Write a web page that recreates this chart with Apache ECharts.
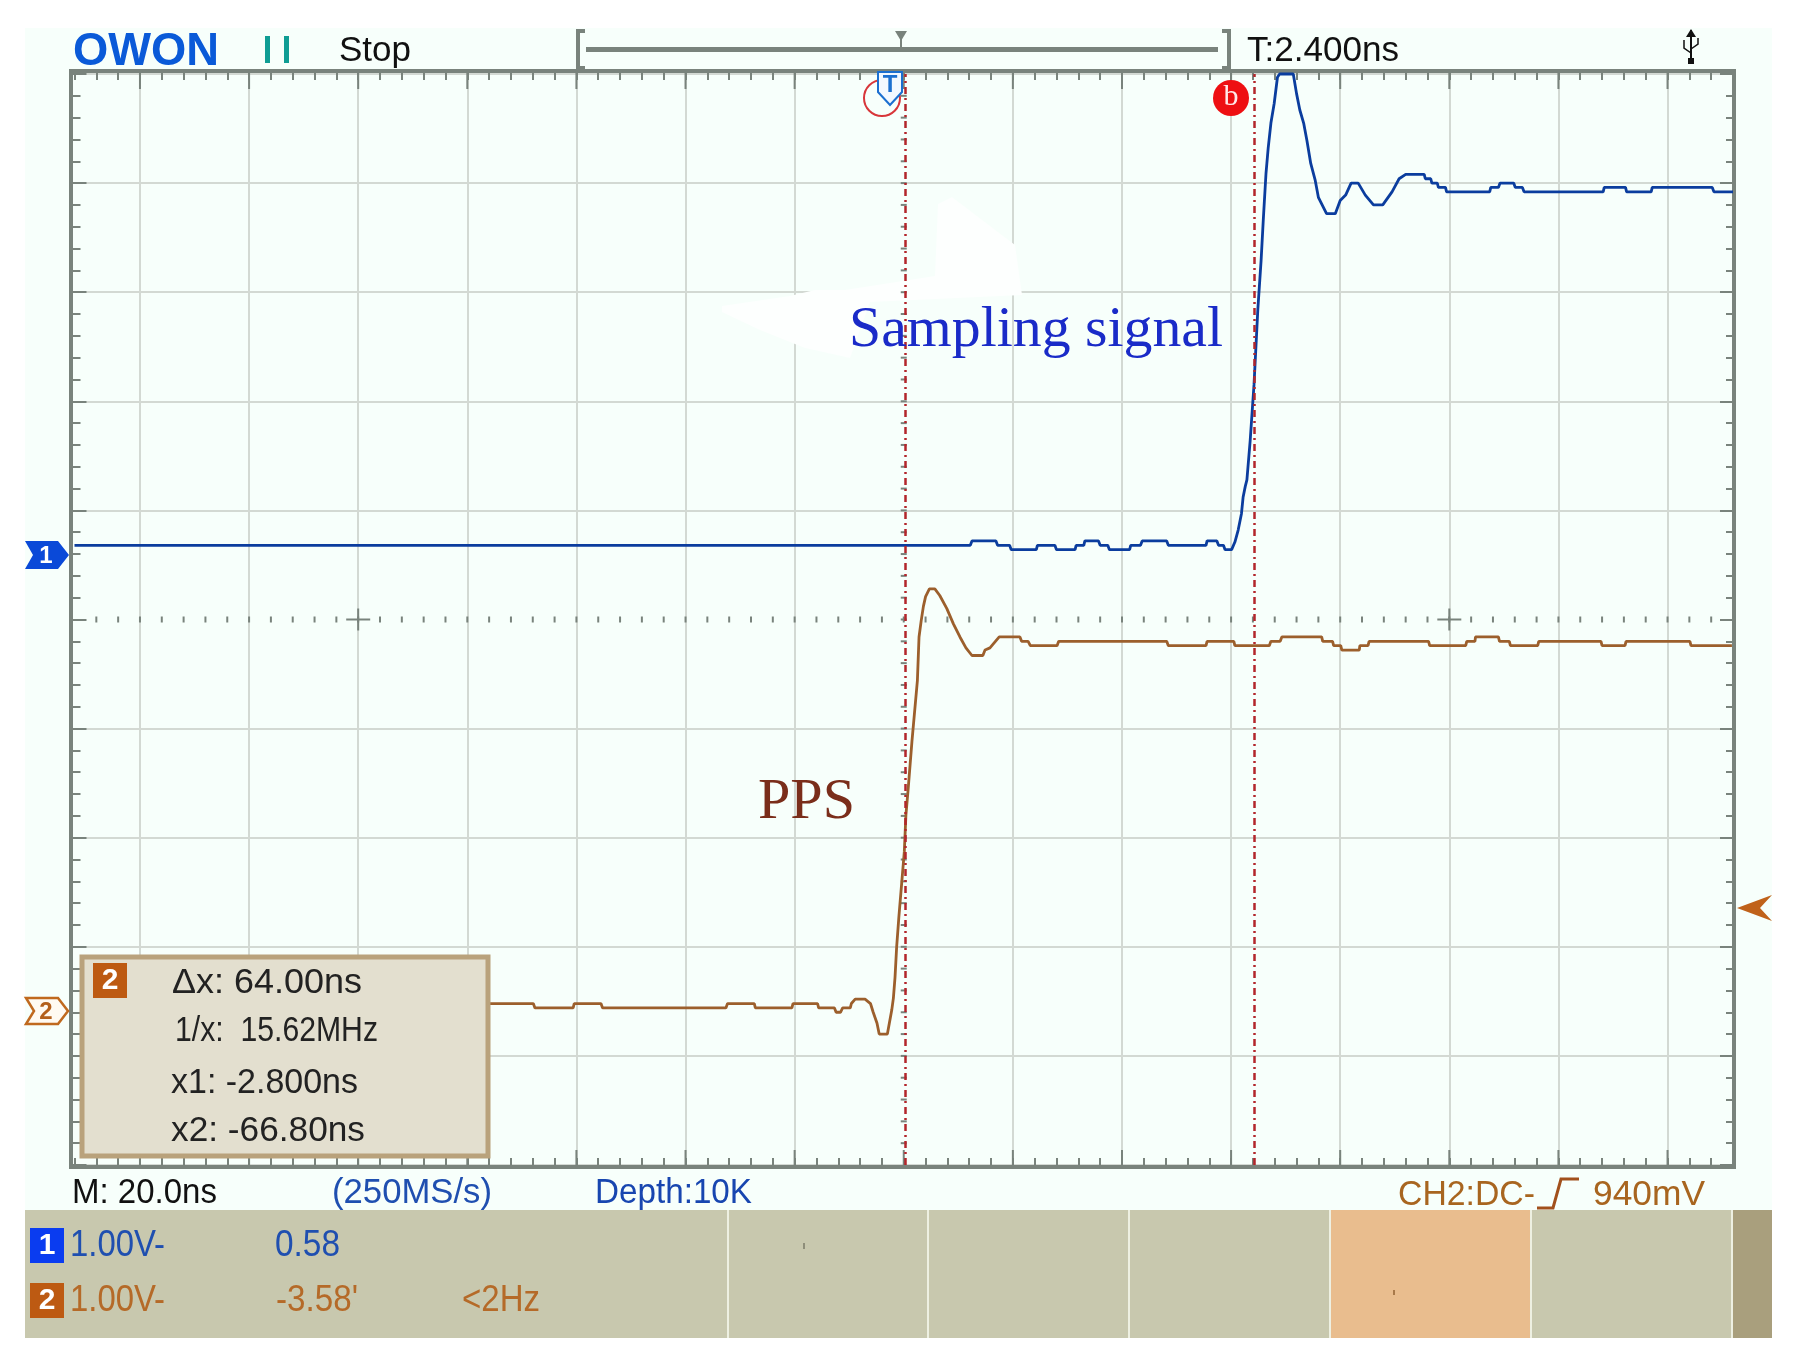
<!DOCTYPE html>
<html><head><meta charset="utf-8">
<style>html,body{margin:0;padding:0;background:#fff}#c{width:1799px;height:1361px}</style>
<script src="https://cdn.jsdelivr.net/npm/echarts@6/dist/echarts.min.js"></script>
</head><body><div id="c"></div>
<script>
// time in ns (20 ns per division), amplitude in divisions (1.00 V/div) from screen centre
const blueX = [-12,152.2,152.5,156.9,157.2,159.4,159.7,164.3,164.5,167.7,168,171.4,171.6,173,173.2,175.7,176,177.4,177.7,181.4,181.6,183.4,183.7,188.2,188.5,195.4,195.6,197.4,197.7,198.6,198.9,200.1,200.7,201.3,201.9,202.2,202.6,202.9,203.5,204.2,204.9,205.5,205.9,206.4,206.8,207.3,207.9,208.5,208.9,211.4,212,212.6,213.3,213.9,214.6,215.4,216,217.5,219.1,220,221,222,223.3,224.6,226.1,227.8,229.5,230.8,232,235.4,235.6,236.6,236.8,237.8,238,239.3,239.5,247.4,247.6,249,249.3,251.8,252.1,253.4,253.7,268.2,268.4,272.3,272.5,277,277.2,288.2,288.5,292];
const blueV = [0.68,0.68,0.72,0.72,0.68,0.68,0.64,0.64,0.68,0.68,0.64,0.64,0.68,0.68,0.72,0.72,0.68,0.68,0.64,0.64,0.68,0.68,0.72,0.72,0.68,0.68,0.72,0.72,0.68,0.68,0.64,0.64,0.71,0.82,0.97,1.12,1.22,1.28,1.64,2.15,2.84,3.29,3.66,4.09,4.32,4.55,4.73,4.97,5,5,4.82,4.67,4.55,4.39,4.18,4.03,3.87,3.72,3.72,3.84,3.89,4,4,3.89,3.8,3.8,3.92,4.04,4.08,4.08,4.04,4.04,4,4,3.96,3.96,3.92,3.92,3.96,3.96,4,4,3.96,3.96,3.92,3.92,3.96,3.96,3.92,3.92,3.96,3.96,3.92,3.92];
const orangeX = [62,72.1,72.4,79.4,79.6,84.5,84.8,107.4,107.7,112.6,112.8,119.5,119.7,124.2,124.4,127.3,127.6,128.4,128.8,130.2,130.4,131.1,132.9,133.9,134.4,135.1,135.5,137,137.3,137.8,138.1,138.4,138.7,139.1,139.6,140.1,140.4,140.8,141.5,142.5,142.8,143.2,143.6,144,144.7,145.7,146.6,147.9,149.1,150.3,151.4,152.5,154.5,154.9,155.8,157.5,161.3,161.6,162.8,163.2,168.1,168.4,188.2,188.5,195.4,195.6,200.5,200.7,207,207.3,209,209.3,216.6,216.8,218.6,218.8,220.1,220.3,223.5,223.6,225.1,225.3,236.2,236.4,243,243.2,244.7,244.8,249,249.2,251,251.2,256.2,256.4,267.8,268,272.2,272.4,284.1,284.3,291.8];
const orangeV = [-3.52,-3.52,-3.56,-3.56,-3.52,-3.52,-3.56,-3.56,-3.52,-3.52,-3.56,-3.56,-3.52,-3.52,-3.56,-3.56,-3.6,-3.6,-3.56,-3.56,-3.52,-3.48,-3.48,-3.52,-3.6,-3.7,-3.8,-3.8,-3.79,-3.58,-3.47,-3.28,-3,-2.73,-2.43,-2.13,-1.79,-1.56,-1.12,-0.56,-0.16,-0.01,0.12,0.21,0.28,0.28,0.22,0.1,-0.04,-0.16,-0.26,-0.33,-0.33,-0.28,-0.26,-0.16,-0.16,-0.2,-0.2,-0.24,-0.24,-0.2,-0.2,-0.24,-0.24,-0.2,-0.2,-0.24,-0.24,-0.2,-0.2,-0.16,-0.16,-0.2,-0.2,-0.24,-0.24,-0.28,-0.28,-0.24,-0.24,-0.2,-0.2,-0.24,-0.24,-0.2,-0.2,-0.16,-0.16,-0.2,-0.2,-0.24,-0.24,-0.2,-0.2,-0.24,-0.24,-0.2,-0.2,-0.24,-0.24];
const cursorX = [140.2, 204.2];
const divisionX = [0,20,40,60,80,100,120,140,160,180,200,220,240,260,280];
const centreRowX = [-8,-4,0,4,8,12,16,20,24,28,32,36,40,44,48,52,56,60,64,68,72,76,80,84,88,92,96,100,104,108,112,116,120,124,128,132,136,140,144,148,152,156,160,164,168,172,176,180,184,188,192,196,200,204,208,212,216,220,224,228,232,236,240,244,248,252,256,260,264,268,272,276,280,284,288];
const centreColY = [-4.8,-4.6,-4.4,-4.2,-4,-3.8,-3.6,-3.4,-3.2,-3,-2.8,-2.6,-2.4,-2.2,-2,-1.8,-1.6,-1.4,-1.2,-1,-0.8,-0.6,-0.4,-0.2,0,0.2,0.4,0.6,0.8,1,1.2,1.4,1.6,1.8,2,2.2,2.4,2.6,2.8,3,3.2,3.4,3.6,3.8,4,4.2,4.4,4.6,4.8];
const crossX = [40, 240];
const xMin = -12, xMax = 292, xStep = 4;

const FRAME='#79837c', GRID='#d3d9d3', SCREEN='#f7fffb', BLUE='#0b3d9e', ORANGE='#9c5f2c', RED='#b3262b';
const SANS='"Liberation Sans"', SERIF='"Liberation Serif"';
const none='rgba(0,0,0,0)';

const xTickValues=[]; for(let v=xMin;v<=xMax;v+=xStep) xTickValues.push(v);
const xSplit=xTickValues.map(v=>(divisionX.includes(v)&&v!==140)?GRID:none);
const ySplit=[GRID,GRID,GRID,GRID,GRID,none,GRID,GRID,GRID,GRID,GRID];

const mctx=document.createElement('canvas').getContext('2d');
function T(x,y,text,fill,size,w,opt){
  opt=opt||{};
  const font=(opt.bold?'bold ':'')+size+'px '+(opt.family||SANS);
  mctx.font=font;
  const sx=w?w/mctx.measureText(text).width:1;
  return {type:'text',x:x,y:y,scaleX:sx,z:opt.z||60,silent:true,
    style:{text:text,fill:fill,font:font,align:opt.align||'left',verticalAlign:'middle'}};
}
function R(x,y,w,h,fill,z){return {type:'rect',z:z==null?0:z,silent:true,shape:{x:x,y:y,width:w,height:h},style:{fill:fill}};}
function P(points,fill,stroke,lw,z){return {type:'polygon',z:z==null?60:z,silent:true,shape:{points:points},style:{fill:fill,stroke:stroke||null,lineWidth:lw||0}};}
function L(points,stroke,lw,z){return {type:'polyline',z:z==null?60:z,silent:true,shape:{points:points},style:{fill:null,stroke:stroke,lineWidth:lw}};}

const graphics=[
  // screen + status strip
  R(25,28,1747,1310,SCREEN,-10),
  R(25,1210,1747,128,'#c8c8ae',-9),
  R(1330,1210,200,128,'#e9bd8e',-8),
  R(1732,1210,40,128,'#a99f7d',-8),
  R(727,1210,2,128,'#eef0e2',-7),R(927,1210,2,128,'#eef0e2',-7),R(1128,1210,2,128,'#eef0e2',-7),
  R(1329,1210,2,128,'#eef0e2',-7),R(1530,1210,2,128,'#eef0e2',-7),R(1731,1210,2,128,'#eef0e2',-7),
  R(803,1243,2,6,'#8e8e7a',-6),R(1393,1290,2,5,'#a8794a',-6),
  // erased patch behind the annotation
  P([[722,306],[790,296],[815,290],[845,290],[935,276],[938,204],[952,197],[1015,245],[1022,295],[870,302],[850,358],[805,348],[760,330],[722,312]],'#fdfffe',null,0,1),
  // frame
  {type:'rect',z:3,silent:true,shape:{x:71,y:71,width:1663,height:1096},style:{fill:null,stroke:FRAME,lineWidth:4}},
  // header
  T(73,52,'OWON','#0a5ad8',46,146,{bold:true}),
  R(265,36,5,27,'#0f9d94',60),R(284,36,5,27,'#0f9d94',60),
  T(339,51,'Stop','#111',35,72),
  L([[585,31],[578,31],[578,68],[585,68]],FRAME,4),
  R(586,47,632,5,FRAME,60),
  L([[1222,31],[1229,31],[1229,68],[1222,68]],FRAME,4),
  P([[895,31],[907,31],[901,41]],FRAME,null,0),R(900,38,2,10,FRAME,60),
  T(1247,51,'T:2.400ns','#111',35,152),
  L([[1691,30],[1691,63]],'#111',2),P([[1691,29],[1686,37],[1696,37]],'#111'),R(1688,58,6,6,'#111',60),
  L([[1684,40],[1684,48],[1691,53]],'#111',1.5),L([[1698,38],[1698,44],[1691,49]],'#111',1.5),
  // trigger markers
  {type:'circle',z:59,silent:true,shape:{cx:882,cy:98,r:18},style:{fill:null,stroke:'#d8363a',lineWidth:2}},
  P([[878,72],[902,72],[902,92],[890,105],[878,92]],'#f2f8ff','#1b6fd0',2),
  T(890,85,'T','#1b6fd0',24,0,{bold:true,align:'center'}),
  {type:'circle',z:60,silent:true,shape:{cx:1231,cy:98,r:18},style:{fill:'#ee0f12'}},
  T(1231,97,'b','#ffe9e9',30,0,{family:SERIF,align:'center'}),
  // annotations
  T(849,331,'Sampling signal','#1a2bc8',58,374,{family:SERIF}),
  T(758,803,'PPS','#7a2d1a',58,97,{family:SERIF}),
  // channel markers
  P([[25,541],[58,541],[69,555],[58,569],[25,569],[33,555]],'#0a49d8'),
  T(46,556,'1','#fff',24,0,{bold:true,align:'center'}),
  P([[26,998],[58,998],[68,1011],[58,1024],[26,1024],[34,1011]],'#fffaf2','#c0691e',2.5),
  T(46,1012,'2','#b4601c',24,0,{bold:true,align:'center'}),
  P([[1772,895],[1737,908],[1772,921],[1760,908]],'#c0621a'),
  // cursor panel
  {type:'rect',z:50,silent:true,shape:{x:82,y:957,width:406,height:199},style:{fill:'#e3dfcf',stroke:'#b9a27c',lineWidth:5}},
  R(93,963,34,35,'#bd5a12',60),
  T(110,981,'2','#fff',30,0,{bold:true,align:'center'}),
  T(172,983,'\u0394x: 64.00ns','#222',35,190),
  T(175,1031,'1/x:  15.62MHz','#222',35,203),
  T(171,1083,'x1: -2.800ns','#222',35,187),
  T(171,1131,'x2: -66.80ns','#222',35,194),
  // status line
  T(72,1193,'M: 20.0ns','#111',35,145),
  T(332,1193,'(250MS/s)','#1f4fb0',35,160),
  T(595,1193,'Depth:10K','#1846b0',35,157),
  T(1398,1195,'CH2:DC-','#a8651f',35,137),
  L([[1537,1208],[1553,1208],[1561,1179],[1579,1179]],'#a2501c',3),
  T(1593,1195,'940mV','#a8651f',35,112),
  // channel rows
  R(30,1228,34,35,'#0a3cf0',60),
  T(47,1246,'1','#fff',30,0,{bold:true,align:'center'}),
  T(70,1246,'1.00V-','#1f4fb0',36,95),
  T(275,1246,'0.58','#1f4fb0',36,65),
  R(30,1283,34,35,'#bd5a12',60),
  T(47,1301,'2','#fff',30,0,{bold:true,align:'center'}),
  T(70,1301,'1.00V-','#b56a28',36,95),
  T(276,1301,"-3.58'",'#b56a28',36,82),
  T(462,1301,'<2Hz','#b56a28',36,78)
];

function tickSeries(name,data,render){
  return {type:'custom',name:name,silent:true,animation:false,xAxisIndex:0,yAxisIndex:0,z:2,clip:false,
    data:data,encode:{x:0,y:1},tooltip:{show:false},renderItem:render};
}
function seg(x1,y1,x2,y2,w){return {type:'line',shape:{x1:x1,y1:y1,x2:x2,y2:y2},style:{stroke:FRAME,lineWidth:w||2}};}

const option={
  backgroundColor:'#ffffff',animation:false,
  grid:{left:74.5,right:1799-1733,top:74,height:1091,containLabel:false},
  graphic:{elements:graphics},
  xAxis:[0,1].map(i=>({
    type:'value',position:i?'top':'bottom',offset:i?3:2,min:xMin,max:xMax,interval:xStep,
    axisLine:{show:false,onZero:false},axisLabel:{show:false},
    axisTick:{show:true,inside:true,length:9,lineStyle:{color:FRAME,width:2}},
    splitLine:{show:i===0,showMinLine:true,showMaxLine:true,lineStyle:{color:xSplit,width:2}}
  })),
  yAxis:[0,1].map(i=>({
    type:'value',position:i?'right':'left',offset:i?2:3,min:-5,max:5,interval:1,
    axisLine:{show:false,onZero:false},axisLabel:{show:false},
    axisTick:{show:true,inside:true,length:15,lineStyle:{color:FRAME,width:2}},
    minorTick:{show:true,splitNumber:5,length:9,lineStyle:{color:FRAME,width:2}},
    splitLine:{show:i===0,lineStyle:{color:ySplit,width:2}}
  })),
  series:[
    tickSeries('divisions',divisionX.map(v=>[v,0]),(p,api)=>{
      const a=api.coord([api.value(0),5]),b=api.coord([api.value(0),-5]);
      return {type:'group',children:[seg(a[0],a[1]-3,a[0],a[1]+15),seg(b[0],b[1]+2,b[0],b[1]-15)]};
    }),
    tickSeries('centreRow',centreRowX.map(v=>[v,0]),(p,api)=>{
      const a=api.coord([api.value(0),0]);return seg(a[0],a[1]-3,a[0],a[1]+3);
    }),
    tickSeries('centreCol',centreColY.map(v=>[140,v]),(p,api)=>{
      const a=api.coord([140,api.value(1)]);return seg(a[0]-3,a[1],a[0]+3,a[1]);
    }),
    tickSeries('crosshair',crossX.map(v=>[v,0]),(p,api)=>{
      const a=api.coord([api.value(0),0]);
      return {type:'group',children:[seg(a[0]-12,a[1],a[0]+12,a[1]),seg(a[0],a[1]-11,a[0],a[1]+11)]};
    }),
    {type:'line',name:'PPS',data:orangeX.map((x,i)=>[x,orangeV[i]]),showSymbol:false,z:5,clip:false,
      lineStyle:{color:ORANGE,width:2.8},itemStyle:{color:ORANGE},
      markLine:{silent:true,symbol:'none',animation:false,z:6,label:{show:false},
        lineStyle:{color:RED,width:2.5,type:[7,4,2,4]},data:cursorX.map(v=>({xAxis:v}))}},
    {type:'line',name:'Sampling signal',data:blueX.map((x,i)=>[x,blueV[i]]),showSymbol:false,z:5,clip:false,
      lineStyle:{color:BLUE,width:2.8},itemStyle:{color:BLUE}}
  ]
};
echarts.init(document.getElementById('c'),null,{renderer:'canvas'}).setOption(option);
</script></body></html>
